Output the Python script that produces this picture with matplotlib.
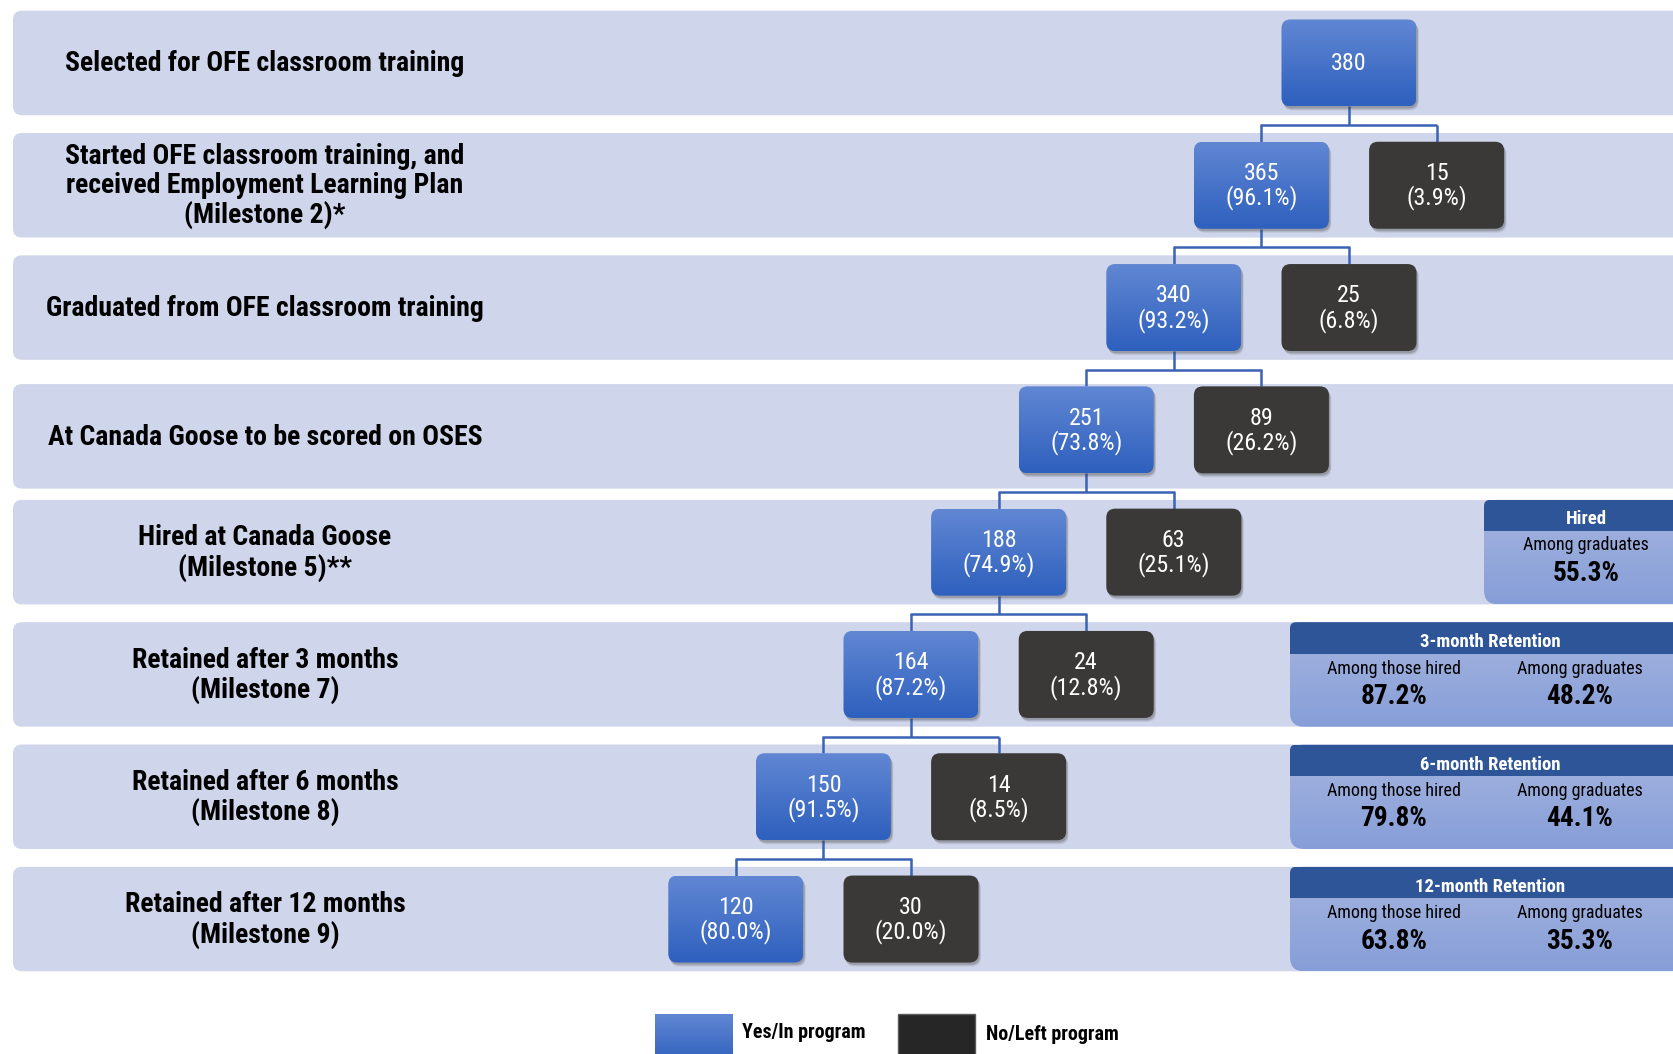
import numpy as np
import matplotlib
matplotlib.use("Agg")
import matplotlib.pyplot as plt
from matplotlib.patches import FancyBboxPatch, Rectangle
from matplotlib import font_manager as fm
from matplotlib.colors import to_rgb

# ---------------- data ----------------
stage_labels = [
    "Selected for OFE classroom training",
    "Started OFE classroom training, and\nreceived Employment Learning Plan\n(Milestone 2)*",
    "Graduated from OFE classroom training",
    "At Canada Goose to be scored on OSES",
    "Hired at Canada Goose\n(Milestone 5)**",
    "Retained after 3 months\n(Milestone 7)",
    "Retained after 6 months\n(Milestone 8)",
    "Retained after 12 months\n(Milestone 9)",
]
yes_counts = [380, 365, 340, 251, 188, 164, 150, 120]
yes_pcts = [None, 96.1, 93.2, 73.8, 74.9, 87.2, 91.5, 80.0]
no_counts = [None, 15, 25, 89, 63, 24, 14, 30]
no_pcts = [None, 3.9, 6.8, 26.2, 25.1, 12.8, 8.5, 20.0]

panel_titles = ["Hired", "3-month Retention", "6-month Retention", "12-month Retention"]
panel_stage = [4, 5, 6, 7]
among_hired = [None, 87.2, 79.8, 63.8]
among_grads = [55.3, 48.2, 44.1, 35.3]

legend_labels = ["Yes/In program", "No/Left program"]

# ---------------- fonts ----------------
names = {f.name for f in fm.fontManager.ttflist}
narrow_cands = [("Liberation Sans Narrow", 0.82), ("Arial Narrow", 0.82),
                ("Roboto Condensed", 0.86), ("Open Sans Condensed", 0.85),
                ("Noto Sans Condensed", 0.90)]
NARROW, WF = "Liberation Sans", 1.0
for nm, wf in narrow_cands:
    if nm in names:
        NARROW, WF = nm, wf
        break
FAM = [NARROW, "DejaVu Sans"]
SC = (0.82 / WF) ** 0.8  # size scale so widths stay close to the reference


def fs(v):
    return v * SC


# ---------------- style ----------------
BAND = "#cfd5ea"
BLUE_TOP, BLUE_BOT = "#6187d3", "#2e60be"
DARK = "#3a3937"
LINE = "#3a63b4"
HEAD = "#2e5597"
PANEL_TOP, PANEL_BOT = "#a6b5df", "#869ed8"

W, H = 1674, 1054
fig = plt.figure(figsize=(W / 100, H / 100), dpi=100)
ax = fig.add_axes([0, 0, 1, 1])
ax.set_axis_off()

ROW_TOP0, ROW_STEP, ROW_H = 10.7, 122.3, 104.5
BAND_SHIFT = {3: 6.5}
BOX_W, BOX_H = 135, 87
X0, DX = 1349, 87.6


def band_top(i):
    return ROW_TOP0 + ROW_STEP * i + BAND_SHIFT.get(i, 0)


def box_center(i):
    return ROW_TOP0 + ROW_STEP * i + ROW_H / 2


def grad_fill(patch, x0, y0, w, h, ctop, cbot, z):
    t = np.linspace(0, 1, 128)[:, None, None]
    c1 = np.array(to_rgb(ctop))[None, None, :]
    c2 = np.array(to_rgb(cbot))[None, None, :]
    img = c1 * (1 - t) + c2 * t
    img = np.repeat(img, 2, axis=1)
    im = ax.imshow(img, extent=(x0, x0 + w, y0 + h, y0), aspect="auto",
                   zorder=z, interpolation="bilinear")
    im.set_clip_path(patch)


# bands + stage labels
for i, lab in enumerate(stage_labels):
    top = band_top(i)
    band = FancyBboxPatch((13, top), 1720, ROW_H,
                          boxstyle="round,pad=0,rounding_size=9",
                          fc=BAND, ec="none", zorder=1)
    ax.add_patch(band)
    ax.text(265, top + ROW_H / 2 + 1, lab, ha="center", va="center",
            fontsize=fs(20.8), fontweight="bold", family=FAM, color="black",
            linespacing=1.1, zorder=5)


def draw_box(cx, cy, kind, txt):
    x0, y0 = cx - BOX_W / 2, cy - BOX_H / 2
    for k, a in ((4, 0.10), (3, 0.15), (2, 0.2)):
        sh = FancyBboxPatch((x0 + k * 0.6, y0 + k), BOX_W, BOX_H,
                            boxstyle="round,pad=0,rounding_size=9",
                            fc="#404040", ec="none", alpha=a, zorder=3)
        ax.add_patch(sh)
    p = FancyBboxPatch((x0, y0), BOX_W, BOX_H,
                       boxstyle="round,pad=0,rounding_size=9",
                       fc=DARK if kind == "no" else "none", ec="none", zorder=4)
    ax.add_patch(p)
    if kind == "yes":
        grad_fill(p, x0, y0, BOX_W, BOX_H, BLUE_TOP, BLUE_BOT, 4)
    ax.text(cx, cy + 1, txt, ha="center", va="center", color="white",
            fontsize=fs(18), family=FAM, linespacing=1.02, zorder=6)


# boxes + connectors
for i in range(len(yes_counts)):
    cy = box_center(i)
    yes_x = X0 - DX * i
    if yes_pcts[i] is None:
        draw_box(yes_x, cy, "yes", f"{yes_counts[i]}")
    else:
        draw_box(yes_x, cy, "yes", f"{yes_counts[i]}\n({yes_pcts[i]:.1f}%)")
    if no_counts[i] is not None:
        no_x = X0 - DX * (i - 2)
        draw_box(no_x, cy, "no", f"{no_counts[i]}\n({no_pcts[i]:.1f}%)")
        px = X0 - DX * (i - 1)
        pbot = box_center(i - 1) + BOX_H / 2
        ctop = cy - BOX_H / 2
        ym = (pbot + ctop) / 2 + 1
        kw = dict(color=LINE, lw=1.8, zorder=2.5, solid_capstyle="butt")
        ax.plot([px, px], [pbot, ym], **kw)
        ax.plot([yes_x - 0.9, no_x + 0.9], [ym, ym], **kw)
        ax.plot([yes_x, yes_x], [ym, ctop], **kw)
        ax.plot([no_x, no_x], [ym, ctop], **kw)

# right-hand summary panels
for k, title in enumerate(panel_titles):
    i = panel_stage[k]
    top = band_top(i)
    x0 = 1484 if among_hired[k] is None else 1290
    pw = 1720 - x0
    p = FancyBboxPatch((x0, top), pw, ROW_H,
                       boxstyle="round,pad=0,rounding_size=14",
                       fc="none", ec="none", zorder=6)
    ax.add_patch(p)
    grad_fill(p, x0, top, pw, ROW_H, PANEL_TOP, PANEL_BOT, 6)
    hp = FancyBboxPatch((x0, top), pw, ROW_H,
                        boxstyle="round,pad=0,rounding_size=6",
                        fc="none", ec="none", zorder=7)
    ax.add_patch(hp)
    hr = Rectangle((x0, top), pw, 31.5, fc=HEAD, ec="none", zorder=7)
    ax.add_patch(hr)
    hr.set_clip_path(hp)
    if among_hired[k] is None:
        ax.text(1586, top + 19.5, title, ha="center", va="center", color="white",
                fontsize=fs(14), fontweight="bold", family=FAM, zorder=8)
        ax.text(1586, top + 45, "Among graduates", ha="center", va="center",
                fontsize=fs(13.5), family=FAM, zorder=8)
        ax.text(1586, top + 73.5, f"{among_grads[k]:.1f}%", ha="center", va="center",
                fontsize=fs(20.5), fontweight="bold", family=FAM, zorder=8)
    else:
        ax.text(1490, top + 20, title, ha="center", va="center", color="white",
                fontsize=fs(14), fontweight="bold", family=FAM, zorder=8)
        ax.text(1394, top + 46.5, "Among those hired", ha="center", va="center",
                fontsize=fs(13.5), family=FAM, zorder=8)
        ax.text(1394, top + 74.5, f"{among_hired[k]:.1f}%", ha="center", va="center",
                fontsize=fs(20.5), fontweight="bold", family=FAM, zorder=8)
        ax.text(1580, top + 46.5, "Among graduates", ha="center", va="center",
                fontsize=fs(13.5), family=FAM, zorder=8)
        ax.text(1580, top + 74.5, f"{among_grads[k]:.1f}%", ha="center", va="center",
                fontsize=fs(20.5), fontweight="bold", family=FAM, zorder=8)

# legend
lp = Rectangle((655, 1014), 78, 50, fc="none", ec="none", zorder=4)
ax.add_patch(lp)
grad_fill(lp, 655, 1014, 78, 50, BLUE_TOP, BLUE_BOT, 4)
ax.add_patch(Rectangle((898, 1014), 77, 50, fc="#262626", ec="#5a5a5a", lw=1, zorder=4))
ax.text(742, 1032, legend_labels[0], ha="left", va="center", fontsize=fs(15),
        fontweight="bold", family=FAM)
ax.text(986, 1034, legend_labels[1], ha="left", va="center", fontsize=fs(15),
        fontweight="bold", family=FAM)

ax.set_xlim(0, W)
ax.set_ylim(H, 0)
fig.savefig("out.png", dpi=100, facecolor="white")
